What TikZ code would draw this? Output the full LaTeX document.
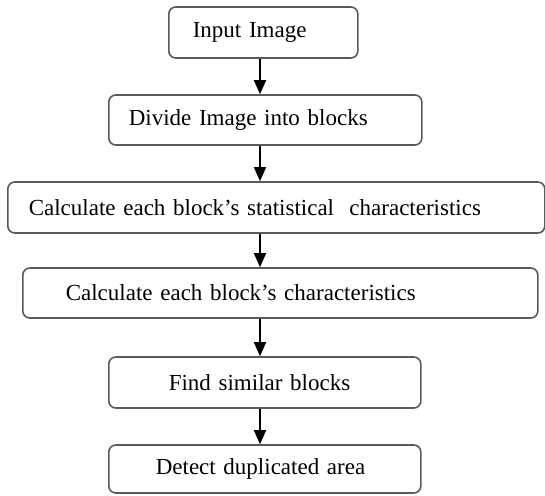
\documentclass[tikz,border=0pt]{standalone}
\usepackage{fontspec}
\setmainfont{Liberation Serif}
\usetikzlibrary{arrows.meta}
\definecolor{color_box_edge}{HTML}{5a5a5a}

\begin{document}
\begin{tikzpicture}[x=1pt, y=-1pt,
    procbox/.style={draw=color_box_edge, line width=1.6pt, rounded corners=7pt, fill=white,
        anchor=west, align=left, minimum height=50pt, inner ysep=0pt,
        font=\fontsize{23}{28}\selectfont},
    flowarrow/.style={line width=1.5pt, -{Triangle[width=12pt,length=14pt]}}]
            \useasboundingbox (0,0) rectangle (545,495);
            % the column where all arrows run
            \coordinate (ax) at (260,0);
            % process boxes
            \node[procbox, inner xsep=24pt, text width=141pt, minimum height=51pt] (in) at (168,32.5) {Input Image};
            \node[procbox, inner xsep=20pt, text width=273pt] (div) at (108,120) {Divide Image into blocks};
            \node[procbox, inner xsep=21pt, text width=495pt, minimum height=51pt] (stat) at (7,207.5) {Calculate each block's statistical\ \ characteristics};
            \node[procbox, inner xsep=43pt, text width=429pt] (char) at (22,293) {Calculate each block's characteristics};
            \node[procbox, inner xsep=60pt, text width=192pt, minimum height=51pt] (sim) at (108,382.5) {Find similar blocks};
            \node[procbox, inner xsep=47pt, text width=218pt, minimum height=48pt] (dup) at (108,469) {Detect duplicated area};
            % arrows
            \foreach \a/\b in {in/div, div/stat, stat/char, char/sim, sim/dup}
                \draw[flowarrow] (\a.south -| ax) -- (\b.north -| ax);
\end{tikzpicture}
\end{document}
